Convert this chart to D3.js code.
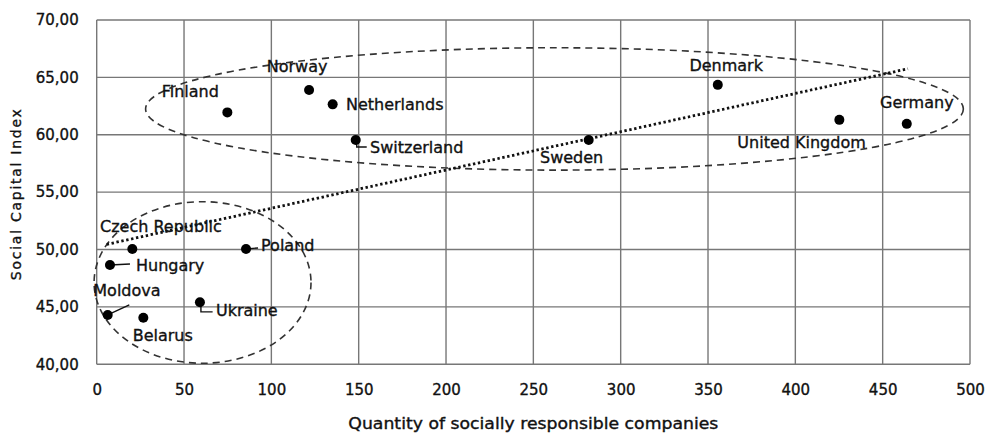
<!DOCTYPE html>
<html>
<head>
<meta charset="utf-8">
<script src="https://cdn.jsdelivr.net/npm/d3@7"></script>
<style>
  body { margin: 0; background: #fff; }
  svg text { font-family: "DejaVu Sans", sans-serif; fill: #111; stroke: #111; stroke-width: 0.35px; }
</style>
</head>
<body>
<script>
//chart data
var countries = ["Finland", "Norway", "Netherlands", "Switzerland", "Sweden", "Denmark", "United Kingdom", "Germany",
                 "Czech Republic", "Hungary", "Poland", "Moldova", "Belarus", "Ukraine"];
var companies = [74.8, 121.6, 135.1, 148.3, 281.7, 355.6, 425.2, 463.8, 20.4, 7.6, 85.5, 6.3, 26.7, 59.1];
var capitalIndex = [61.95, 63.9, 62.65, 59.55, 59.55, 64.35, 61.3, 60.95, 50.05, 48.65, 50.05, 44.3, 44.05, 45.4];

//dotted linear trend, endpoints as read
var trendX = [5.7, 464.5];
var trendY = [50.45, 65.75];

//dashed group ellipses: centre x, centre y, radius x, radius y (data units)
var groupCx = [262.1, 60.6];
var groupCy = [62.25, 47.13];
var groupRx = [234.1, 62.1];
var groupRy = [5.33, 7.04];

var xTicks = [0, 50, 100, 150, 200, 250, 300, 350, 400, 450, 500];
var yTicks = [40, 45, 50, 55, 60, 65, 70];

//label placement (pixel offsets from the dot) and leader styles
var labelLayout = {
    "Finland":        {dx: -65.6, dy: -15.6},
    "Norway":         {dx: -42.3, dy: -18.3},
    "Netherlands":    {dx: 13.3,  dy: 5.7},
    "Switzerland":    {dx: 14.3,  dy: 13.3, leader: "elbow", lx: 11, ly: 7},
    "Sweden":         {dx: -48.7, dy: 22.7},
    "Denmark":        {dx: -28.4, dy: -14},
    "United Kingdom": {dx: -102,  dy: 27.7},
    "Germany":        {dx: -26.7, dy: -15.7},
    "Czech Republic": {dx: -32.3, dy: -17.3},
    "Hungary":        {dx: 26,    dy: 5.7, leader: "line", lx: 20, ly: -1},
    "Poland":         {dx: 15,    dy: 2, leader: "line", lx: 12, ly: -1},
    "Moldova":        {dx: -14.4, dy: -19, leader: "line", lx: 21.6, ly: -10},
    "Belarus":        {dx: -10.6, dy: 23.4},
    "Ukraine":        {dx: 16,    dy: 14, leader: "elbow", lx: 12.7, ly: 9.5}
};

var width = 985,
    height = 434;

var margin = {top: 20, right: 15, bottom: 69.7, left: 96.7};

var svg = d3.select("body")
    .append("svg")
    .attr("width", width)
    .attr("height", height);

var x = d3.scaleLinear()
    .domain([0, 500])
    .range([margin.left, width - margin.right]);

var y = d3.scaleLinear()
    .domain([40, 70])
    .range([height - margin.bottom, margin.top]);

//grid lines
svg.append("g")
    .selectAll("line")
    .data(xTicks)
    .enter()
    .append("line")
    .attr("x1", function(d){ return x(d); })
    .attr("x2", function(d){ return x(d); })
    .attr("y1", y(40))
    .attr("y2", y(70))
    .attr("stroke", "#777")
    .attr("stroke-width", 1.4);

svg.append("g")
    .selectAll("line")
    .data(yTicks)
    .enter()
    .append("line")
    .attr("x1", x(0))
    .attr("x2", x(500))
    .attr("y1", function(d){ return y(d); })
    .attr("y2", function(d){ return y(d); })
    .attr("stroke", "#777")
    .attr("stroke-width", 1.4);

//tick labels via d3 axes, domain and tick marks hidden
var xAxis = svg.append("g")
    .attr("transform", "translate(0," + y(40) + ")")
    .call(d3.axisBottom(x).tickValues(xTicks).tickSize(0).tickPadding(20));

var yAxis = svg.append("g")
    .attr("transform", "translate(" + x(0) + ",0)")
    .call(d3.axisLeft(y).tickValues(yTicks).tickSize(0).tickPadding(18)
        .tickFormat(function(d){ return d3.format(".2f")(d).replace(".", ","); }));

[xAxis, yAxis].forEach(function(ax){
    ax.select(".domain").remove();
    ax.selectAll("text")
        .attr("font-family", "DejaVu Sans")
        .attr("font-size", 15)
        .attr("fill", "#111");
});

//axis titles
svg.append("text")
    .attr("x", (x(0) + x(500)) / 2)
    .attr("y", 428.5)
    .attr("text-anchor", "middle")
    .attr("font-size", 15)
    .attr("textLength", 370)
    .attr("lengthAdjust", "spacingAndGlyphs")
    .text("Quantity of socially responsible companies");

svg.append("text")
    .attr("transform", "translate(21," + ((y(40) + y(70)) / 2 + 2.5) + ") rotate(-90)")
    .attr("text-anchor", "middle")
    .attr("font-size", 14)
    .attr("textLength", 171)
    .attr("lengthAdjust", "spacing")
    .text("Social Capital Index");

//group ellipses
svg.append("g")
    .selectAll("ellipse")
    .data(groupCx)
    .enter()
    .append("ellipse")
    .attr("cx", function(d){ return x(d); })
    .attr("cy", function(d, i){ return y(groupCy[i]); })
    .attr("rx", function(d, i){ return x(groupRx[i]) - x(0); })
    .attr("ry", function(d, i){ return y(40) - y(40 + groupRy[i]); })
    .attr("fill", "none")
    .attr("stroke", "#333")
    .attr("stroke-width", 1.6)
    .attr("stroke-dasharray", "7 5");

//trend line
svg.append("line")
    .attr("x1", x(trendX[0]))
    .attr("y1", y(trendY[0]))
    .attr("x2", x(trendX[1]))
    .attr("y2", y(trendY[1]))
    .attr("stroke", "#111")
    .attr("stroke-width", 2.8)
    .attr("stroke-dasharray", "2.4 2.6");

//points
var points = countries.map(function(c, i){
    return {name: c, px: x(companies[i]), py: y(capitalIndex[i]), lay: labelLayout[c]};
});

//leader lines
svg.append("g")
    .selectAll("path")
    .data(points.filter(function(p){ return p.lay.leader; }))
    .enter()
    .append("path")
    .attr("d", function(p){
        if (p.lay.leader == "elbow"){
            return "M" + (p.px + 1) + "," + p.py + "V" + (p.py + p.lay.ly) + "H" + (p.px + p.lay.lx);
        }
        return "M" + p.px + "," + p.py + "L" + (p.px + p.lay.lx) + "," + (p.py + p.lay.ly);
    })
    .attr("fill", "none")
    .attr("stroke", "#111")
    .attr("stroke-width", 1.4);

svg.append("g")
    .selectAll("circle")
    .data(points)
    .enter()
    .append("circle")
    .attr("cx", function(p){ return p.px; })
    .attr("cy", function(p){ return p.py; })
    .attr("r", 5)
    .attr("fill", "#000");

//data labels
svg.append("g")
    .selectAll("text")
    .data(points)
    .enter()
    .append("text")
    .attr("x", function(p){ return p.px + p.lay.dx; })
    .attr("y", function(p){ return p.py + p.lay.dy; })
    .attr("font-size", 16)
    .text(function(p){ return p.name; });
</script>
</body>
</html>
